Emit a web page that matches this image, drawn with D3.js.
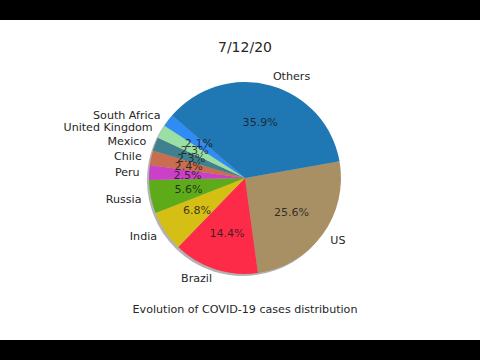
<!DOCTYPE html>
<html>
<head>
<meta charset="utf-8">
<script src="https://cdn.jsdelivr.net/npm/d3@7"></script>
<style>
 body { margin: 0; background: #000; }
 svg { display: block; font-family: "DejaVu Sans", sans-serif; }
</style>
</head>
<body>
<script>
 // chart data (share of cases, %)
 var countries = ["US", "Brazil", "India", "Russia", "Peru", "Chile", "Mexico", "United Kingdom", "South Africa", "Others"];
 var shares = [25.6, 14.4, 6.8, 5.6, 2.5, 2.4, 2.3, 2.3, 2.1, 35.9];
 var sliceColors = ["#a89064", "#fe2b48", "#d5bf14", "#5eab1a", "#cc40c8", "#c96e4e", "#41808e", "#9ae0a4", "#2f8cf5", "#1f77b4"];
 var title = "7/12/20";
 var caption = "Evolution of COVID-19 cases distribution";

 var width = 480, height = 360;
 var cx = 245, cy = 178, r = 96;
 var startDeg = 10; // where the first slice begins, counted like matplotlib
 var fontSize = 11.1;

 var svg = d3.select("body").append("svg")
	 .attr("width", width)
	 .attr("height", height);

 // letterbox frame
 svg.append("rect").attr("x", 0).attr("y", 20).attr("width", width).attr("height", 320).attr("fill", "#fff");

 var data = countries.map(function(c, i){ return {name: c, value: shares[i], color: sliceColors[i]}; });

 // clockwise from startDeg (math angle) -> d3 angle = 90 - deg
 var a0 = (90 - startDeg) * Math.PI / 180;
 var pie = d3.pie().sort(null).value(function(d){ return d.value; })
	 .startAngle(a0).endAngle(a0 + 2 * Math.PI);
 var arcs = pie(data);
 var arc = d3.arc().innerRadius(0).outerRadius(r);

 // shadow
 svg.append("g")
	 .attr("transform", "translate(" + (cx - 2) + "," + (cy + 2) + ")")
	 .selectAll("path").data(arcs).enter().append("path")
	 .attr("d", arc)
	 .attr("fill", "#555")
	 .attr("opacity", 0.45);

 var g = svg.append("g").attr("transform", "translate(" + cx + "," + cy + ")");

 g.selectAll("path.slice").data(arcs).enter().append("path")
	 .attr("class", "slice")
	 .attr("d", arc)
	 .attr("fill", function(d){ return d.data.color; });

 function midPoint(d, k){
	 var m = (d.startAngle + d.endAngle) / 2;
	 return [Math.sin(m) * r * k, -Math.cos(m) * r * k];
 }

 // country names at 1.1 r
 g.selectAll("text.name").data(arcs).enter().append("text")
	 .attr("class", "name")
	 .attr("x", function(d){ return midPoint(d, 1.1)[0]; })
	 .attr("y", function(d){ return midPoint(d, 1.1)[1]; })
	 .attr("dy", "0.35em")
	 .attr("text-anchor", function(d){ return midPoint(d, 1.1)[0] < 0 ? "end" : "start"; })
	 .attr("font-size", fontSize)
	 .attr("fill", "#262626")
	 .text(function(d){ return d.data.name; });

 // percentages at 0.6 r (they overlap on the thin slices, as in the original)
 g.selectAll("text.pct").data(arcs).enter().append("text")
	 .attr("class", "pct")
	 .attr("x", function(d){ return midPoint(d, 0.6)[0]; })
	 .attr("y", function(d){ return midPoint(d, 0.6)[1]; })
	 .attr("dy", "0.35em")
	 .attr("text-anchor", "middle")
	 .attr("font-size", fontSize)
	 .attr("fill", "#1a1a1a")
	 .attr("fill-opacity", 0.85)
	 .text(function(d){ return d3.format(".1f")(d.data.value) + "%"; });

 svg.append("text")
	 .attr("x", cx).attr("y", 52)
	 .attr("text-anchor", "middle")
	 .attr("font-size", 14)
	 .attr("fill", "#262626")
	 .text(title);

 svg.append("text")
	 .attr("x", cx).attr("y", 313)
	 .attr("text-anchor", "middle")
	 .attr("font-size", fontSize)
	 .attr("fill", "#262626")
	 .text(caption);
</script>
</body>
</html>
